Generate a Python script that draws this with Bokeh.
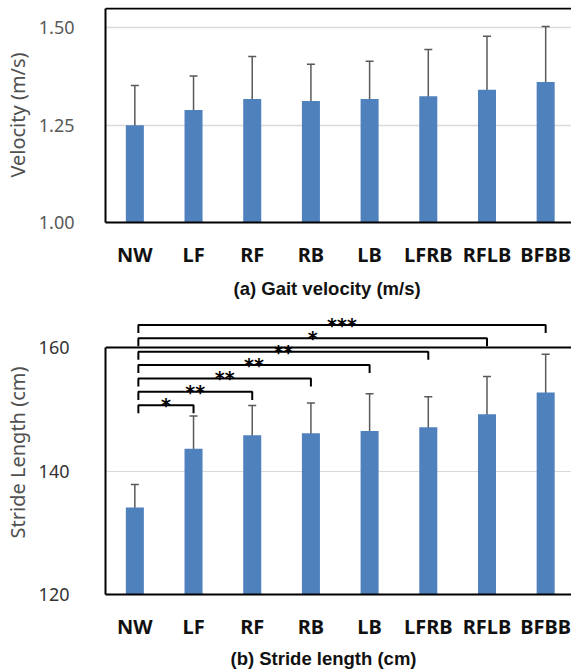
from bokeh.plotting import figure
from bokeh.layouts import column
from bokeh.models import (ColumnDataSource, Whisker, TeeHead, FixedTicker, Span,
                          Title, Range1d, NumeralTickFormatter)
from bokeh.core.properties import value
from bokeh.embed import file_html
from bokeh.resources import INLINE

# ---------------- data ----------------
conditions = ["NW", "LF", "RF", "RB", "LB", "LFRB", "RFLB", "BFBB"]
velocity_mean = [1.250, 1.289, 1.317, 1.312, 1.317, 1.324, 1.341, 1.361]
velocity_sd = [0.102, 0.087, 0.109, 0.094, 0.097, 0.120, 0.137, 0.142]
stride_mean = [134.1, 143.6, 145.8, 146.1, 146.5, 147.1, 149.2, 152.7]
stride_sd = [3.7, 5.3, 4.8, 4.9, 6.0, 4.95, 6.1, 6.2]
velocity_ticks = [1.00, 1.25, 1.50]
stride_ticks = [120, 140, 160]
# significance of each condition vs NW
sig_targets = ["LF", "RF", "RB", "LB", "LFRB", "RFLB", "BFBB"]
sig_labels = ["*", "**", "**", "**", "**", "*", "***"]

W = 571
BAR_COLOR = "#4F81BD"
ERR_COLOR = "#595959"
XMAX = 7.44
xs = list(range(len(conditions)))
overrides = {i: c for i, c in enumerate(conditions)}


def style(p, ticks, fmt, bounds, grid_ticks, tick_color, standoff):
    p.outline_line_color = None
    p.xgrid.visible = False
    p.ygrid.ticker = FixedTicker(ticks=grid_ticks)
    p.ygrid.grid_line_color = "#d9d9d9"
    p.ygrid.grid_line_width = 1.5
    ya = p.yaxis[0]
    ya.ticker = FixedTicker(ticks=ticks)
    if fmt:
        ya.formatter = NumeralTickFormatter(format=fmt)
    ya.bounds = bounds
    ya.axis_line_color = "black"
    ya.axis_line_width = 2
    ya.major_tick_line_color = None
    ya.minor_tick_line_color = None
    ya.major_label_text_font = "Noto Sans"
    ya.major_label_text_font_size = "18px"
    ya.major_label_text_color = tick_color
    ya.major_label_standoff = standoff
    ya.axis_label_text_font = "Noto Sans"
    ya.axis_label_text_font_size = "20px"
    ya.axis_label_text_font_style = "normal"
    ya.axis_label_text_color = "#505050"
    ya.axis_label_standoff = 5
    xa = p.xaxis[0]
    xa.ticker = FixedTicker(ticks=xs)
    xa.major_label_overrides = overrides
    xa.axis_line_color = "black"
    xa.axis_line_width = 2
    xa.major_tick_line_color = None
    xa.minor_tick_line_color = None
    xa.major_label_text_font = "Noto Sans"
    xa.major_label_text_font_size = "20px"
    xa.major_label_text_font_style = "bold"
    xa.major_label_text_color = "#111111"
    xa.major_label_standoff = 12


# ---------------- (a) velocity ----------------
src1 = ColumnDataSource(dict(
    x=xs, mean=velocity_mean,
    upper=[m + s for m, s in zip(velocity_mean, velocity_sd)],
    lower=[m - s for m, s in zip(velocity_mean, velocity_sd)],
))
p1 = figure(width=W, height=310, x_range=Range1d(-0.5, XMAX), y_range=Range1d(1.0, 1.552),
            output_backend="svg", toolbar_location=None,
            min_border_left=97, min_border_right=0, min_border_top=7, min_border_bottom=88,
            y_axis_label="Velocity (m/s)")
style(p1, velocity_ticks, "0.00", (1.0, 1.5495), [1.25, 1.5], "#595959", 25)
p1.vbar(x="x", top="mean", bottom=1.0, width=0.307, source=src1,
        fill_color=BAR_COLOR, line_color=None)
p1.add_layout(Whisker(base="x", upper="upper", lower="lower", source=src1,
                      line_color=ERR_COLOR, line_width=1.5,
                      upper_head=TeeHead(size=8, line_color=ERR_COLOR, line_width=1.5),
                      lower_head=TeeHead(size=8, line_color=ERR_COLOR, line_width=1.5)))
p1.add_layout(Span(location=1.5495, dimension="width", line_color="black", line_width=2))
p1.add_layout(Title(text="(a) Gait velocity (m/s)", align="left", offset=128, standoff=10,
                    text_font="Liberation Sans", text_font_size="18.5px",
                    text_font_style="bold", text_color="#111111"), "below")

# ---------------- (b) stride length ----------------
src2 = ColumnDataSource(dict(
    x=xs, mean=stride_mean,
    upper=[m + s for m, s in zip(stride_mean, stride_sd)],
    lower=[m - s for m, s in zip(stride_mean, stride_sd)],
))
p2 = figure(width=W, height=362, x_range=Range1d(-0.5, XMAX), y_range=Range1d(120, 166.0),
            output_backend="svg", toolbar_location=None,
            min_border_left=98, min_border_right=0, min_border_top=0, min_border_bottom=78,
            y_axis_label="Stride Length (cm)")
style(p2, stride_ticks, None, (120, 160), [140], "#333333", 30)
p2.ygrid.grid_line_width = 1
p2.vbar(x="x", top="mean", bottom=120, width=0.307, source=src2,
        fill_color=BAR_COLOR, line_color=None)
p2.add_layout(Whisker(base="x", upper="upper", lower="lower", source=src2,
                      line_color=ERR_COLOR, line_width=1.5,
                      upper_head=TeeHead(size=8, line_color=ERR_COLOR, line_width=1.5),
                      lower_head=TeeHead(size=8, line_color=ERR_COLOR, line_width=1.5)))
p2.add_layout(Span(location=160, dimension="width", line_color="black", line_width=2))

# significance brackets (NW vs each condition)
bx, by, tx, ty = [], [], [], []
x0 = 0.06
for k, t in enumerate(sig_targets):
    xt = conditions.index(t)
    level = 150.65 + 2.17 * k
    drop = 1.3
    bx.append([x0, x0, xt, xt])
    by.append([level - drop, level, level, level - drop])
    tx.append((x0 + xt) / 2)
    ty.append(level)
p2.multi_line(xs=bx, ys=by, line_color="black", line_width=2)
p2.text(x=tx, y=ty, text=sig_labels, text_align="center", text_baseline="alphabetic",
        y_offset=0, text_font=value("DejaVu Sans"), text_font_style="bold",
        text_font_size="19px", text_color="black")
p2.add_layout(Title(text="(b) Stride length (cm)", align="left", offset=125, standoff=6,
                    text_font="Liberation Sans", text_font_size="18.5px",
                    text_font_style="bold", text_color="#111111"), "below")

layout = column(p1, p2, spacing=0)
open("out.html", "w").write(file_html(layout, INLINE))
